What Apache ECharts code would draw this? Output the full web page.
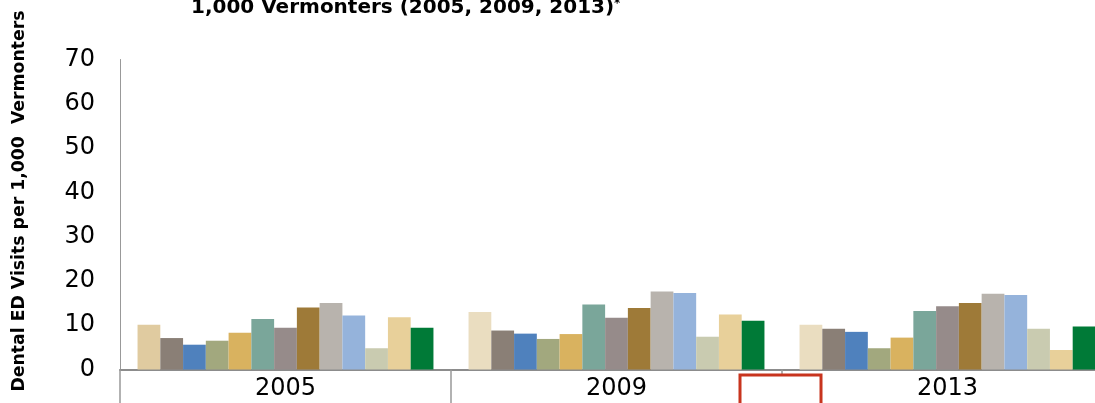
<!DOCTYPE html>
<html>
<head>
<meta charset="utf-8">
<script src="https://cdn.jsdelivr.net/npm/echarts@6/dist/echarts.min.js"></script>
<style>
  html, body { margin: 0; padding: 0; background: #fff; }
  #chart { width: 1095px; height: 403px; }
</style>
</head>
<body>
<div id="chart"></div>
<script>
// years on the x axis
var categories = ['2005', '2009', '2013']
var yTicks = [0, 10, 20, 30, 40, 50, 60, 70]

// one value per bar, left to right inside each year
var v2005 = [10.1, 7.1, 5.6, 6.5, 8.3, 11.4, 9.4, 14.0, 15.0, 12.2, 4.8, 11.8, 9.4]
var v2009 = [13.0, 8.8, 8.1, 6.9, 8.0, 14.7, 11.7, 13.9, 17.6, 17.3, 7.4, 12.4, 11.0]
var v2013 = [10.1, 9.2, 8.5, 4.8, 7.2, 13.2, 14.3, 15.0, 17.1, 16.8, 9.2, 4.4, 9.7]

var barColors = ['#EADDC0', '#8A7F76', '#4F81BD', '#A2A87E', '#D9B25F', '#7AA69A',
  '#968B8A', '#9E7A38', '#B8B3AD', '#95B3DB', '#C9CBB0', '#E8D09A', '#007A37']
var firstBar2005Color = '#E0CBA0'

var chart = echarts.init(document.getElementById('chart'))

var series = barColors.map(function (c, i) {
  var d = [v2005[i], v2009[i], v2013[i]]
  if (i === 0) {
    d = [{ value: v2005[i], itemStyle: { color: firstBar2005Color } }, v2009[i], v2013[i]]
  }
  return {
    name: 'Series ' + (i + 1),
    type: 'bar',
    barGap: '0%',
    barCategoryGap: '10.6%',
    itemStyle: { color: c },
    data: d
  }
})

chart.setOption({
  animation: false,
  title: {
    text: '{t|1,000 Vermonters (2005, 2009, 2013)}{s|*}',
    left: 186,
    top: -7,
    textStyle: {
      rich: {
        t: { fontFamily: 'DejaVu Sans', fontWeight: 'bold', fontSize: 20, color: '#000' },
        s: { fontFamily: 'DejaVu Sans', fontSize: 12, color: '#000', verticalAlign: 'top' }
      }
    }
  },
  // the last year runs a bit past the right edge of the picture
  grid: {
    left: 120, width: 993, top: 59.5, bottom: 33.5,
    containLabel: false, outerBoundsMode: 'none'
  },
  xAxis: {
    type: 'category',
    data: categories,
    axisLine: { lineStyle: { color: '#8c8c8c', width: 2 } },
    axisTick: { show: true, length: 34, lineStyle: { color: '#999', width: 1.5 } },
    axisLabel: { fontFamily: 'DejaVu Sans', fontSize: 24, color: '#000', margin: 7 }
  },
  yAxis: {
    type: 'value',
    min: 0,
    max: yTicks[yTicks.length - 1],
    interval: 10,
    axisLine: { show: true, lineStyle: { color: '#999', width: 1 } },
    axisTick: { show: false },
    splitLine: { show: false },
    axisLabel: { fontFamily: 'DejaVu Sans', fontSize: 24, color: '#000', margin: 25 }
  },
  graphic: [
    {
      type: 'text',
      x: 20,
      y: 201,
      rotation: Math.PI / 2,
      style: {
        text: 'Dental ED Visits per 1,000  Vermonters',
        fontFamily: 'DejaVu Sans',
        fontWeight: 'bold',
        fontSize: 17.3,
        fill: '#000',
        textAlign: 'center',
        textVerticalAlign: 'middle'
      }
    },
    {
      type: 'rect',
      z: 100,
      shape: { x: 740, y: 375, width: 81, height: 40 },
      style: { fill: '#fff', stroke: '#C8341E', lineWidth: 3 }
    }
  ],
  series: series
})
</script>
</body>
</html>
